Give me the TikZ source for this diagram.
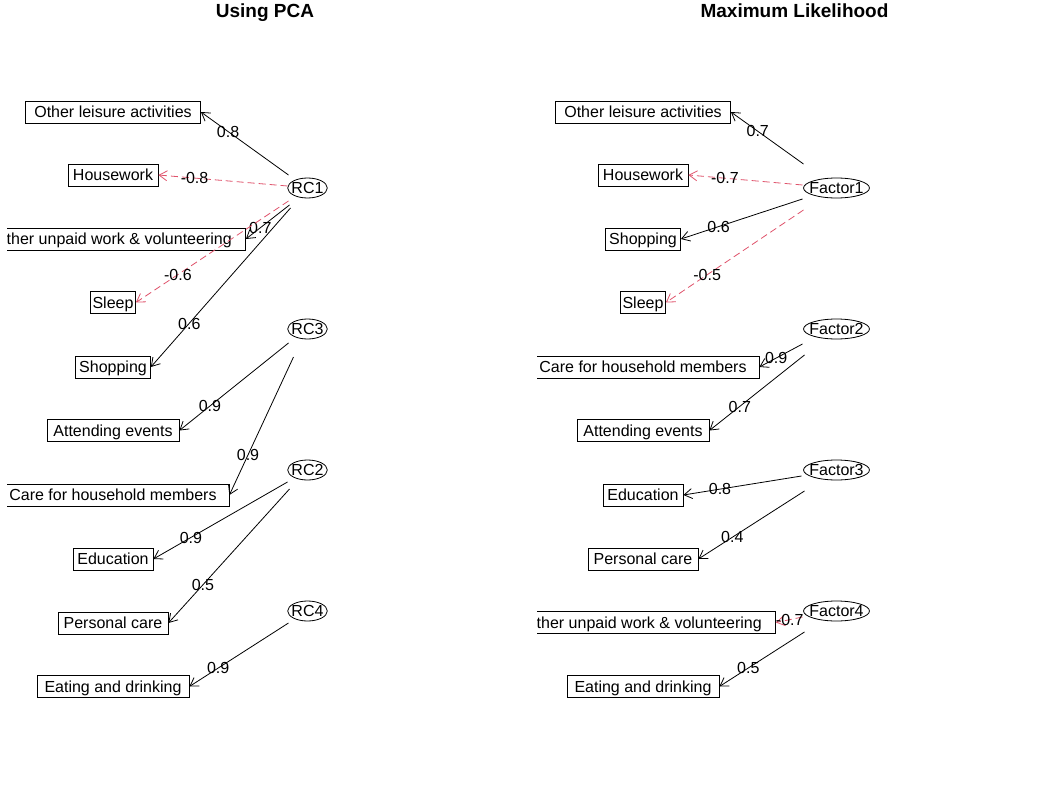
\documentclass[tikz,border=0pt]{standalone}
\usepackage{fontspec}
\setmainfont{Liberation Sans}
\usetikzlibrary{shapes, arrows.meta}
\definecolor{negred}{HTML}{DF536B}

\begin{document}
\begin{tikzpicture}[x=1pt, y=-1pt, >={Straight Barb[length=8pt, width=10pt]},
  font=\fontsize{16}{19}\selectfont, line width=0.8pt,
  manifest/.style={draw, minimum width=#1, minimum height=22pt, inner sep=0pt, text height=11.5pt, text depth=0pt},
  latent/.style={draw, ellipse, inner xsep=#1, inner ysep=0pt, minimum height=20pt, text height=11.5pt, text depth=0pt},
  loadval/.style={text=black, inner sep=0pt, text height=11.5pt, text depth=0pt},
  negload/.style={negred, dash pattern=on 7pt off 4pt},
  paneltitle/.style={font=\fontsize{19}{23}\selectfont\bfseries, anchor=base}]
  \useasboundingbox (0,0) rectangle (1060,789);

  \node[paneltitle] (pcatitle) at (265,18) {Using PCA};
  \node[paneltitle] (mltitle) at (794.5,18) {Maximum Likelihood};

  % principal components
  \begin{scope}
    \clip (7,30) rectangle (530,760);
    \node[manifest=175pt] (poth) at (113,112) {Other leisure activities};
    \node[manifest=90pt] (phouse) at (113,175) {Housework};
    \node[manifest=265pt] (punpaid) at (113,239) {Other unpaid work \& volunteering};
    \node[manifest=45pt] (psleep) at (113,302.5) {Sleep};
    \node[manifest=75pt] (pshop) at (113,367) {Shopping};
    \node[manifest=132pt] (pattend) at (113,430.5) {Attending events};
    \node[manifest=232pt] (pcare) at (113,495) {Care for household members};
    \node[manifest=80pt] (pedu) at (113,559) {Education};
    \node[manifest=110pt] (ppers) at (113,623) {Personal care};
    \node[manifest=152pt] (peat) at (113,686.5) {Eating and drinking};

    \node[latent=-2pt] (rc1) at (307.5,188) {RC1};
    \node[latent=-2pt] (rc3) at (307.5,329) {RC3};
    \node[latent=-2pt] (rc2) at (307.5,470) {RC2};
    \node[latent=-2pt] (rc4) at (307.5,611) {RC4};

    \draw[->] ([shift={(-19,-13)}]rc1.center) -- node[loadval, pos=.69] (vpoth) {0.8} (poth.east);
    \draw[->, negload] ([shift={(-20,-2)}]rc1.center) -- node[loadval, pos=.72] (vphouse) {-0.8} (phouse.east);
    \draw[->] ([shift={(-18,17)}]rc1.center) -- node[loadval, pos=.67] (vpunpaid) {0.7} (punpaid.east);
    \draw[->, negload] ([shift={(-19,13)}]rc1.center) -- node[loadval, pos=.725] (vpsleep) {-0.6} (psleep.east);
    \draw[->] ([shift={(-17,20)}]rc1.center) -- node[loadval, pos=.725] (vpshop) {0.6} (pshop.east);
    \draw[->] ([shift={(-19,14)}]rc3.center) -- node[loadval, pos=.72] (vpattend) {0.9} (pattend.east);
    \draw[->] ([shift={(-14,28)}]rc3.center) -- node[loadval, pos=.71] (vpcare) {0.9} (pcare.east);
    \draw[->] ([shift={(-20,12)}]rc2.center) -- node[loadval, pos=.72] (vpedu) {0.9} (pedu.east);
    \draw[->] ([shift={(-18,19)}]rc2.center) -- node[loadval, pos=.715] (vppers) {0.5} (ppers.east);
    \draw[->] ([shift={(-19,12)}]rc4.center) -- node[loadval, pos=.71] (vpeat) {0.9} (peat.east);
  \end{scope}

  % maximum likelihood
  \begin{scope}
    \clip (537,30) rectangle (1060,760);
    \node[manifest=175pt] (moth) at (643,112) {Other leisure activities};
    \node[manifest=90pt] (mhouse) at (643,175) {Housework};
    \node[manifest=75pt] (mshop) at (643,239) {Shopping};
    \node[manifest=45pt] (msleep) at (643,302.5) {Sleep};
    \node[manifest=232pt] (mcare) at (643,367) {Care for household members};
    \node[manifest=132pt] (mattend) at (643,430.5) {Attending events};
    \node[manifest=80pt] (medu) at (643,495) {Education};
    \node[manifest=110pt] (mpers) at (643,559) {Personal care};
    \node[manifest=265pt] (munpaid) at (643,622.5) {Other unpaid work \& volunteering};
    \node[manifest=152pt] (meat) at (643,686.5) {Eating and drinking};

    \node[latent=-3.8pt] (fac1) at (836.5,188) {Factor1};
    \node[latent=-3.8pt] (fac2) at (836.5,329) {Factor2};
    \node[latent=-3.8pt] (fac3) at (836.5,470) {Factor3};
    \node[latent=-3.8pt] (fac4) at (836.5,611) {Factor4};

    \draw[->] ([shift={(-33,-24)}]fac1.center) -- node[loadval, pos=.63] (vmoth) {0.7} (moth.east);
    \draw[->, negload] ([shift={(-34,-3)}]fac1.center) -- node[loadval, pos=.68] (vmhouse) {-0.7} (mhouse.east);
    \draw[->] ([shift={(-34,11)}]fac1.center) -- node[loadval, pos=.69] (vmshop) {0.6} (mshop.east);
    \draw[->, negload] ([shift={(-33,22)}]fac1.center) -- node[loadval, pos=.70] (vmsleep) {-0.5} (msleep.east);
    \draw[->] ([shift={(-34,15)}]fac2.center) -- node[loadval, pos=.61] (vmcare) {0.9} (mcare.east);
    \draw[->] ([shift={(-32,26)}]fac2.center) -- node[loadval, pos=.68] (vmattend) {0.7} (mattend.east);
    \draw[->] ([shift={(-35,6)}]fac3.center) -- node[loadval, pos=.69] (vmedu) {0.8} (medu.east);
    \draw[->] ([shift={(-32,21)}]fac3.center) -- node[loadval, pos=.68] (vmpers) {0.4} (mpers.east);
    \draw[->, negload] ([shift={(-34,6)}]fac4.center) -- node[loadval, pos=.48] (vmunpaid) {-0.7} (munpaid.east);
    \draw[->] ([shift={(-32,21)}]fac4.center) -- node[loadval, pos=.66] (vmeat) {0.5} (meat.east);
  \end{scope}
\end{tikzpicture}
\end{document}
